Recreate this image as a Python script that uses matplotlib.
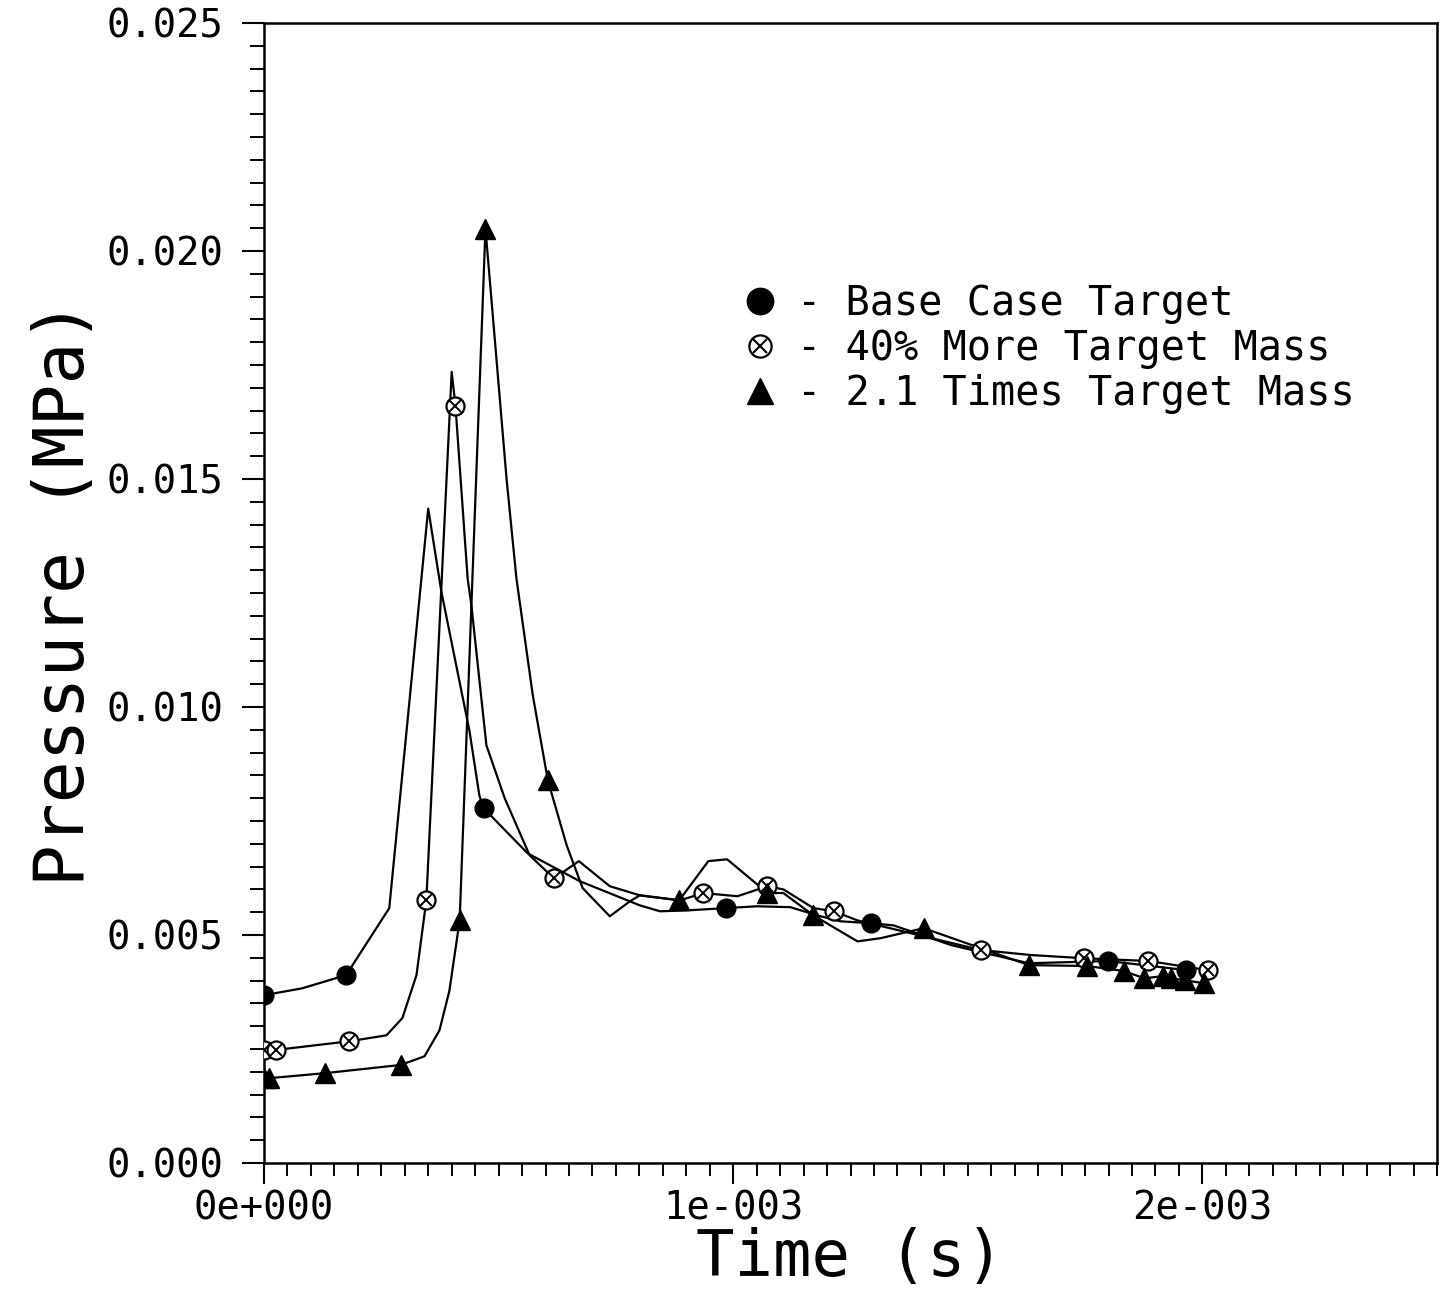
import numpy as np
import matplotlib
matplotlib.use("Agg")
import matplotlib.pyplot as plt
from matplotlib.lines import Line2D
from matplotlib.legend_handler import HandlerTuple
from matplotlib.ticker import MultipleLocator, FixedLocator, FixedFormatter

# ---------------- data (time in ms, pressure in MPa) ----------------
base_line_t = [0, 0.081, 0.175, 0.267, 0.350, 0.378, 0.438, 0.459, 0.468, 0.562, 0.673,
               0.801, 0.844, 0.902, 0.985, 1.051, 1.122, 1.179, 1.229, 1.293, 1.342,
               1.464, 1.630, 1.799, 1.966, 1.981]
base_line_p = [0.00368, 0.00383, 0.00412, 0.00559, 0.01435, 0.01253, 0.00947, 0.00806,
               0.00778, 0.00679, 0.00618, 0.00565, 0.00552, 0.00554, 0.00559, 0.00563,
               0.00561, 0.00543, 0.00530, 0.00526, 0.00521, 0.00478, 0.00438, 0.00443,
               0.00423, 0.00416]
base_mark_t = [0, 0.175, 0.468, 0.985, 1.293, 1.799, 1.966]
base_mark_p = [0.00368, 0.00412, 0.00778, 0.00559, 0.00526, 0.00443, 0.00423]

mass40_line_t = [0, 0.026, 0.182, 0.261, 0.295, 0.325, 0.346, 0.400, 0.408, 0.434, 0.442,
                 0.474, 0.513, 0.566, 0.618, 0.671, 0.737, 0.801, 0.887, 0.936, 1.009,
                 1.073, 1.107, 1.171, 1.214, 1.265, 1.528, 1.635, 1.748, 1.885, 2.011]
mass40_line_p = [0.00248, 0.00248, 0.00267, 0.00280, 0.00318, 0.00412, 0.00576, 0.01735,
                 0.01661, 0.01282, 0.01223, 0.00916, 0.00800, 0.00675, 0.00624, 0.00662,
                 0.00607, 0.00587, 0.00576, 0.00592, 0.00585, 0.00607, 0.00600, 0.00559,
                 0.00552, 0.00532, 0.00467, 0.00456, 0.00449, 0.00443, 0.00423]
mass40_mark_t = [0, 0.026, 0.182, 0.346, 0.408, 0.618, 0.936, 1.073, 1.214, 1.528, 1.748,
                 1.885, 2.011]
mass40_mark_p = [0.00248, 0.00248, 0.00267, 0.00576, 0.01661, 0.00624, 0.00592, 0.00607,
                 0.00552, 0.00467, 0.00449, 0.00443, 0.00423]

mass21_line_t = [0, 0.011, 0.130, 0.291, 0.342, 0.374, 0.395, 0.417, 0.472, 0.517, 0.538,
                 0.573, 0.605, 0.645, 0.679, 0.737, 0.780, 0.801, 0.885, 0.947, 0.987,
                 1.036, 1.073, 1.107, 1.171, 1.265, 1.314, 1.406, 1.630, 1.754, 1.833,
                 1.876, 1.917, 1.934, 1.962, 2.004]
mass21_line_p = [0.00186, 0.00186, 0.00197, 0.00215, 0.00234, 0.00291, 0.00377, 0.00532,
                 0.02049, 0.01500, 0.01282, 0.01025, 0.00839, 0.00697, 0.00603, 0.00541,
                 0.00574, 0.00587, 0.00576, 0.00662, 0.00666, 0.00624, 0.00592, 0.00592,
                 0.00543, 0.00486, 0.00493, 0.00515, 0.00434, 0.00432, 0.00421, 0.00405,
                 0.00410, 0.00405, 0.00401, 0.00394]
mass21_mark_t = [0, 0.011, 0.130, 0.291, 0.417, 0.472, 0.605, 0.885, 1.073, 1.171, 1.406,
                 1.630, 1.754, 1.833, 1.876, 1.917, 1.934, 1.962, 2.004]
mass21_mark_p = [0.00186, 0.00186, 0.00197, 0.00215, 0.00532, 0.02049, 0.00839, 0.00576,
                 0.00592, 0.00543, 0.00515, 0.00434, 0.00432, 0.00421, 0.00405, 0.00410,
                 0.00405, 0.00401, 0.00394]

legend_labels = ["- Base Case Target", "- 40% More Target Mass", "- 2.1 Times Target Mass"]
x_tick_vals = [0, 1e-3, 2e-3]
x_tick_labels = ["0e+000", "1e-003", "2e-003"]
y_tick_vals = [0.000, 0.005, 0.010, 0.015, 0.020, 0.025]
y_tick_labels = ["0.000", "0.005", "0.010", "0.015", "0.020", "0.025"]

MS = 1e-3  # ms -> s

# ---------------- figure ----------------
FONT = "DejaVu Sans Mono"
fig = plt.figure(figsize=(14.5, 12.92), dpi=100)
ax = fig.add_axes([264 / 1450, 1 - 1163 / 1292, 1173 / 1450, 1140 / 1292])

lw = 1.6
ax.plot(np.array(base_line_t) * MS, base_line_p, color="black", lw=lw, zorder=2)
ax.plot(np.array(mass40_line_t) * MS, mass40_line_p, color="black", lw=lw, zorder=2)
ax.plot(np.array(mass21_line_t) * MS, mass21_line_p, color="black", lw=lw, zorder=2)

ax.plot(np.array(base_mark_t) * MS, base_mark_p, ls="none", marker="o", ms=13.5,
        mfc="black", mec="black", zorder=3)
ax.plot(np.array(mass40_mark_t) * MS, mass40_mark_p, ls="none", marker="o", ms=13,
        mfc="white", mec="black", mew=1.6, zorder=3)
ax.plot(np.array(mass40_mark_t) * MS, mass40_mark_p, ls="none", marker="x", ms=8.5,
        mec="black", mew=1.4, zorder=4)
ax.plot(np.array(mass21_mark_t) * MS, mass21_mark_p, ls="none", marker="^", ms=14,
        mfc="black", mec="black", zorder=3)

ax.set_xlim(0, 2.5e-3)
ax.set_ylim(0, 0.025)

for s in ["left", "bottom", "top", "right"]:
    ax.spines[s].set_linewidth(1.8)

ax.xaxis.set_major_locator(FixedLocator(x_tick_vals))
ax.xaxis.set_major_formatter(FixedFormatter(x_tick_labels))
ax.xaxis.set_minor_locator(MultipleLocator(0.05e-3))
ax.yaxis.set_major_locator(FixedLocator(y_tick_vals))
ax.yaxis.set_major_formatter(FixedFormatter(y_tick_labels))
ax.yaxis.set_minor_locator(MultipleLocator(0.0005))

ax.tick_params(axis="x", which="major", direction="out", length=15, width=1.5, pad=4,
               labelsize=28)
ax.tick_params(axis="x", which="minor", direction="out", length=9.5, width=1.4)
ax.tick_params(axis="y", which="major", direction="out", length=15.5, width=1.5, pad=14,
               labelsize=28)
ax.tick_params(axis="y", which="minor", direction="out", length=10, width=1.4)
for lab in ax.get_xticklabels() + ax.get_yticklabels():
    lab.set_fontfamily(FONT)

ax.set_xlabel("Time (s)", fontsize=46, family=FONT, labelpad=0)
ax.set_ylabel("Pressure (MPa)", fontsize=50, family=FONT, labelpad=6)

# legend
h_base = Line2D([], [], ls="none", marker="o", ms=19, mfc="black", mec="black")
h40a = Line2D([], [], ls="none", marker="o", ms=16, mfc="white", mec="black", mew=1.6)
h40b = Line2D([], [], ls="none", marker="x", ms=10.5, mec="black", mew=1.5)
h21 = Line2D([], [], ls="none", marker="^", ms=19, mfc="black", mec="black")
leg = ax.legend([h_base, (h40a, h40b), h21], legend_labels,
                handler_map={tuple: HandlerTuple(ndivide=1, pad=0)},
                loc="upper left", bbox_to_anchor=(722 / 1450, 1 - 264 / 1292),
                bbox_transform=fig.transFigure, frameon=False, borderpad=0,
                handlelength=0.9, handletextpad=0.45, labelspacing=0.12,
                prop={"family": FONT, "size": 29})

fig.savefig("out.png", dpi=100)
